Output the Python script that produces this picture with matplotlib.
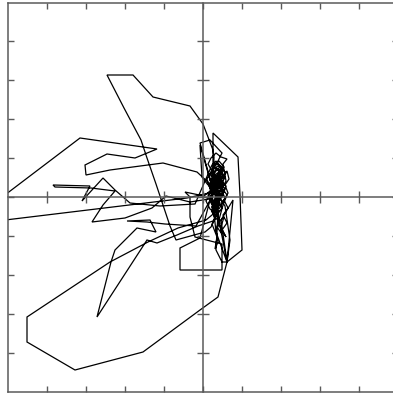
import numpy as np
import matplotlib
matplotlib.use("Agg")
import matplotlib.pyplot as plt

# trajectory pieces (x, y), origin at the crossing of the axes
cluster_a = [(11, 9), (15, 16), (9, 21), (13, 28), (18, 24), (14, 17), (20, 12), (16, 5),
             (10, 8), (8, -2), (14, -6), (19, 0), (22, 8), (17, 14), (12, 11), (9, 18),
             (15, 22), (19, 30), (14, 34), (10, 29), (7, 23), (12, 14), (16, -4), (11, -12),
             (15, -20), (9, -15), (11, 40)]
top_loop = [(10, 47), (3, 65), (0, 73), (-13, 91), (-50, 100), (-70, 122), (-96, 122),
            (-79, 89), (-62, 57), (-56, 39), (-47, 13), (-39, -11), (-33, -29), (-27, -43),
            (2, -35)]
cluster_b = [(8, -30), (12, -22), (9, -14), (15, -10), (11, -3), (17, 3), (13, 10), (19, 14),
             (22, 20), (17, 26), (12, 22), (8, 15), (-3, 54), (7, 57), (19, 44), (15, 36),
             (10, 31), (16, 27), (21, 19), (18, 11), (12, 6), (7, 0), (11, -7), (16, -12),
             (20, -5), (14, 2), (10, 9)]
right_edge = [(10, 64), (35, 40), (37, 2), (39, -53), (24, -65), (18, -23), (30, -3),
              (24, -65), (13, -35), (8, 12)]
left_upper = [(-6, 25), (-40, 34), (-93, 27), (-117, 22), (-118, 32), (-96, 43), (-68, 39),
              (-46, 48), (-123, 59), (-206, -4), (-206, -24), (-16, -1)]
cluster_c = [(6, 4), (11, 10), (7, 17), (13, 21), (9, 27), (15, 31), (20, 26), (16, 19),
             (21, 13), (18, 6), (13, 1), (17, -6), (12, -11), (8, -6), (5, 2), (10, 7),
             (-3, 52), (-1, 20), (5, 12), (9, 16), (14, 12), (19, 18), (23, 24), (18, 30),
             (13, 36), (9, 32)]
left_arrow = [(-8, -7), (-43, -9), (-73, -6), (-88, 7), (-100, 19), (-121, -4), (-113, 11),
              (-150, 12), (-148, 10), (-112, 9), (-88, 6), (-100, -8), (-111, -25),
              (-78, -21), (-51, -11), (-37, 1), (-13, -5)]
cluster_d = [(6, -2), (11, -8), (16, -14), (12, -20), (17, -26), (13, -33), (15, -45),
             (12, -52), (14, -40), (9, -27), (14, -18), (19, -11), (15, -4), (20, 3),
             (16, 10), (11, 5), (7, 11), (12, 18), (17, 24), (21, 30), (16, 36), (11, 31),
             (8, 24), (13, 15), (18, 8), (22, -1), (17, -9), (12, -3)]
bottom_loop = [(24, -65), (15, -100), (-3, -113), (-60, -155), (-128, -173), (-176, -145),
               (-176, -120), (-93, -65), (-55, -45), (-25, -31), (3, -23)]
cluster_e = [(9, -18), (14, -12), (10, -5), (16, 0), (21, 6), (17, 12), (12, 8), (8, 14),
             (13, 20), (18, 16), (23, 11), (20, 4), (15, -2), (11, 3), (7, 9), (10, 17),
             (15, 23), (20, 29), (14, 33), (9, 28), (12, 21), (17, 15)]
middle_left = [(-7, -29), (-38, -27), (-56, -25), (-76, -24), (-53, -23), (-47, -35),
               (-66, -31), (-88, -53), (-92, -65), (-106, -120), (-56, -43), (-46, -46),
               (-26, -38), (-5, -29)]
cluster_f = [(10, -24), (14, -17), (9, -10), (13, -4), (18, 2), (14, 9), (19, 15), (15, 21),
             (10, 18), (6, 11), (11, 4), (16, -1), (21, 5), (17, 12), (12, 16)]
box_detour = [(-3, -41), (-23, -51), (-23, -73), (19, -73), (19, -47), (-8, -40), (-13, -20),
              (-13, 0), (-18, 5), (1, 1)]
cluster_g = [(7, 6), (12, 12), (16, 18), (11, 23), (15, 29), (20, 22), (17, 15), (13, 8),
             (18, 2), (14, -5), (10, -10), (15, -16), (13, -53), (19, -65), (24, -65),
             (27, -43), (22, -9), (17, -2), (12, 7), (9, 13)]
cluster_h = [(18, 20), (24, 26), (26, 18), (22, 12), (25, 4), (21, -3), (25, -11), (20, -18),
             (24, -26), (19, -33), (23, -40), (18, -30), (21, -20), (16, -25), (19, -37),
             (14, -30), (20, -8), (24, 2), (19, 9), (23, 16), (20, 33), (24, 38), (18, 40),
             (13, 44), (8, 39), (5, 33), (9, 26), (4, 18), (8, 5), (3, -4), (7, -12),
             (12, -16), (16, -8), (12, -1)]

path = np.array(cluster_a + top_loop + cluster_b + right_edge + left_upper + cluster_c
                + left_arrow + cluster_d + bottom_loop + cluster_e + middle_left
                + cluster_f + box_detour + cluster_g + cluster_h, dtype=float)

ticks = np.arange(-156, 157, 39)
axis_col = "#5a5a5a"

fig = plt.figure(figsize=(3.93, 3.94), dpi=100)
pos = [8 / 393, 2 / 394, 390 / 393, 389 / 394]

# outer frame with inward ticks
ax = fig.add_axes(pos)
ax.set_xlim(-195, 195)
ax.set_ylim(-195, 194)
for s in ax.spines.values():
    s.set_color(axis_col)
    s.set_linewidth(1.1)
ax.set_xticks(ticks)
ax.set_yticks(ticks)
ax.tick_params(direction="in", length=4.5, width=1.0, color=axis_col,
               top=True, right=True, labelbottom=False, labelleft=False)

ax.plot(path[:, 0], path[:, 1], color="black", lw=0.9, solid_joinstyle="miter")

# axes through the origin
ax2 = fig.add_axes(pos, sharex=ax, sharey=ax)
ax2.patch.set_visible(False)
ax2.spines["top"].set_visible(False)
ax2.spines["right"].set_visible(False)
ax2.spines["left"].set_position("zero")
ax2.spines["bottom"].set_position("zero")
for side in ("left", "bottom"):
    ax2.spines[side].set_color(axis_col)
    ax2.spines[side].set_linewidth(1.1)
ax2.tick_params(direction="inout", length=8.5, width=1.0, color=axis_col,
                labelbottom=False, labelleft=False)

fig.savefig("out.png", dpi=100)
